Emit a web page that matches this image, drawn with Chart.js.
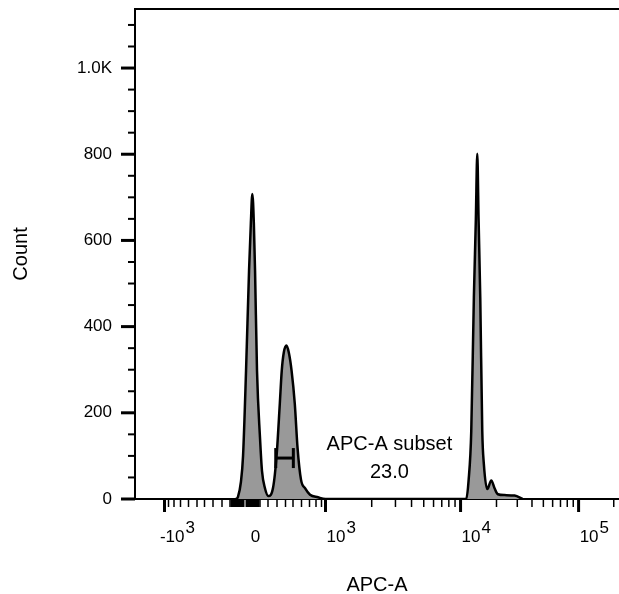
<!DOCTYPE html>
<html>
<head>
<meta charset="utf-8">
<script src="https://cdn.jsdelivr.net/npm/chart.js@4.4.1/dist/chart.umd.min.js"></script>
<style>
html,body{margin:0;padding:0;background:#fff;overflow:hidden;}
#box{position:relative;width:619px;height:594px;}
</style>
</head>
<body>
<div id="box"><canvas id="hist"></canvas></div>
<script>

// APC-A intensity of each histogram vertex, and the cell count there
var apcValues = [-60, -47, -27, -13, 7, 27, 39, 49, 59, 67, 80, 100, 125, 162, 204,
	256, 297, 333, 356, 380, 412, 444, 481, 521, 553, 594, 644, 708, 836, 1000,
	11152, 11655, 12279, 12910, 13414, 13783, 14134, 14602, 15178, 15655, 16719, 18072, 19267, 20543, 23407, 28441, 33259];
var counts = [0, 5, 40, 100, 298, 530, 640, 708, 640, 530, 298, 142, 65, 25, 7,
	26, 105, 221, 298, 340, 356, 340, 298, 221, 120, 45, 25, 10, 4, 0,
	0, 42, 158, 468, 650, 801, 650, 468, 158, 81, 23, 43, 25, 11, 9, 8, 0];

// axis labels
var xMajorValues = [-1000, 0, 1000, 10000, 100000];
var xMajorBases = ['-10', '0', '10', '10', '10'];
var xMajorExps = ['3', '', '3', '4', '5'];
var yLabelValues = [0, 200, 400, 600, 800, 1000];
var yLabelTexts = ['0', '200', '400', '600', '800', '1.0K'];
var yMax = 1137;

// gate
var gateRange = [286, 504];
var gateLevel = 95;
var gateName = 'APC-A subset';
var gatePercent = '23.0';
var gateLabelValue = 2700;
var gateLabelCounts = [114, 49];

// biexponential display: linear-ish part for |v| <= 1000 (one knot every 100), log part above
var linearKnots = [0, 15, 23, 32, 40.5, 48, 56.5, 64.5, 71, 76.5, 80.5];
var logDecade = 116.5, logShift = 330;

function biex(v){
	var a = Math.abs(v), s = v < 0 ? -1 : 1, d;
	if(a <= 1000){
		var i = Math.min(Math.floor(a/100), 9);
		var f = (a - i*100)/100;
		d = linearKnots[i] + f*(linearKnots[i+1] - linearKnots[i]);
	} else {
		d = linearKnots[10] + logDecade*(Math.log10(a - logShift) - Math.log10(1000 - logShift));
	}
	return s*d;
}

function minorTicks(){
	var list = [], k, m;
	for(k = 10; k < 100; k += 10){ list.push(k); list.push(-k); }
	for(k = 100; k < 1000; k += 100){ list.push(k); list.push(-k); }
	for(m = 2; m <= 9; m++){ list.push(m*1000); list.push(m*10000); list.push(m*100000); }
	return list;
}

var FONT = '"Liberation Sans", Arial, sans-serif';

function line(ctx, x1, y1, x2, y2){
	ctx.beginPath();
	ctx.moveTo(x1, y1);
	ctx.lineTo(x2, y2);
	ctx.stroke();
}

var extras = {
	'id': 'extras',
	'afterDraw': function(chart){
		var ctx = chart.ctx, area = chart.chartArea, sx = chart.scales.x, sy = chart.scales.y;
		var i, v, p;
		ctx.save();
		ctx.strokeStyle = '#000';
		ctx.fillStyle = '#000';
		ctx.lineCap = 'butt';

		ctx.lineWidth = 2;
		line(ctx, area.left - 1, area.top, area.right, area.top);

		// y ticks every 50, long ones every 200
		for(v = 0; v <= 1100; v += 50){
			p = sy.getPixelForValue(v);
			var major = v % 200 === 0;
			ctx.lineWidth = major ? 3 : 2;
			line(ctx, area.left - (major ? 14 : 7), p, area.left, p);
		}

		// x ticks
		var minors = minorTicks();
		for(i = 0; i < minors.length; i++){
			p = sx.getPixelForValue(biex(minors[i]));
			if(p < area.left || p > area.right) continue;
			ctx.lineWidth = Math.abs(minors[i]) < 100 ? 2 : 1.5;
			line(ctx, p, area.bottom, p, area.bottom + 8);
		}
		ctx.lineWidth = 3;
		for(i = 0; i < xMajorValues.length; i++){
			if(xMajorValues[i] === 0) continue;
			p = sx.getPixelForValue(biex(xMajorValues[i]));
			line(ctx, p, area.bottom, p, area.bottom + 13);
		}

		// x tick labels, 10 with exponent
		ctx.font = '17px ' + FONT;
		ctx.textBaseline = 'alphabetic';
		ctx.textAlign = 'left';
		for(i = 0; i < xMajorValues.length; i++){
			p = sx.getPixelForValue(biex(xMajorValues[i]));
			var core = xMajorBases[i].replace('-', '');
			var w = ctx.measureText(core).width;
			var start = p + 10.5 - w/2;
			if(xMajorBases[i].charAt(0) === '-'){
				ctx.textAlign = 'right';
				ctx.fillText('-', start, area.bottom + 43);
				ctx.textAlign = 'left';
			}
			ctx.fillText(core, start, area.bottom + 43);
			if(xMajorExps[i]){
				ctx.fillText(xMajorExps[i], start + w + 1, area.bottom + 34);
			}
		}

		// gate bracket
		var g1 = sx.getPixelForValue(biex(gateRange[0]));
		var g2 = sx.getPixelForValue(biex(gateRange[1]));
		var gy = sy.getPixelForValue(gateLevel);
		ctx.lineWidth = 3;
		line(ctx, g1, gy, g2, gy);
		line(ctx, g1, gy - 10, g1, gy + 10);
		line(ctx, g2, gy - 10, g2, gy + 10);

		ctx.font = '20px ' + FONT;
		ctx.textAlign = 'center';
		var lx = sx.getPixelForValue(biex(gateLabelValue));
		ctx.fillText(gateName, lx, sy.getPixelForValue(gateLabelCounts[0]));
		ctx.fillText(gatePercent, lx, sy.getPixelForValue(gateLabelCounts[1]));
		ctx.restore();
	}
};

var points = [];
for(var n = 0; n < apcValues.length; n++){
	points.push({'x': biex(apcValues[n]), 'y': counts[n]});
}

var hist = new Chart(document.getElementById('hist'), {
	type: 'line',
	data: {
		datasets: [{
			data: points,
			fill: 'origin',
			backgroundColor: '#999999',
			borderColor: '#000000',
			borderWidth: 2.5,
			pointRadius: 0,
			cubicInterpolationMode: 'monotone'
		}]
	},
	plugins: [extras],
	options: {
		responsive: true,
		maintainAspectRatio: false,
		animation: false,
		devicePixelRatio: 1,
		layout: {padding: {top: 9, right: 0, bottom: 0, left: 0}},
		plugins: {legend: {display: false}, tooltip: {enabled: false}},
		scales: {
			x: {
				type: 'linear',
				min: 135 - 245,
				max: 619 - 245,
				grid: {display: false, drawTicks: false},
				border: {display: true, color: '#000', width: 2},
				ticks: {display: false},
				title: {display: true, text: 'APC-A', color: '#000', font: {family: FONT, size: 20, lineHeight: 0.9}, padding: 0},
				afterFit: function(scale){ scale.height = 95; scale.paddingLeft = 0; scale.paddingRight = 0; }
			},
			y: {
				min: 0,
				max: yMax,
				grid: {display: false, drawTicks: false},
				border: {display: true, color: '#000', width: 2},
				afterBuildTicks: function(scale){
					scale.ticks = yLabelValues.map(function(v){ return {value: v}; });
				},
				ticks: {
					color: '#000',
					padding: 23,
					font: {family: FONT, size: 17},
					callback: function(v){ return yLabelTexts[yLabelValues.indexOf(v)]; }
				},
				title: {display: true, text: 'Count', color: '#000', font: {family: FONT, size: 20, lineHeight: 0.9}, padding: {top: 12, bottom: 0}},
				afterFit: function(scale){ scale.width = 135; scale.paddingTop = 0; scale.paddingBottom = 0; }
			}
		}
	}
});
</script>
</body>
</html>
